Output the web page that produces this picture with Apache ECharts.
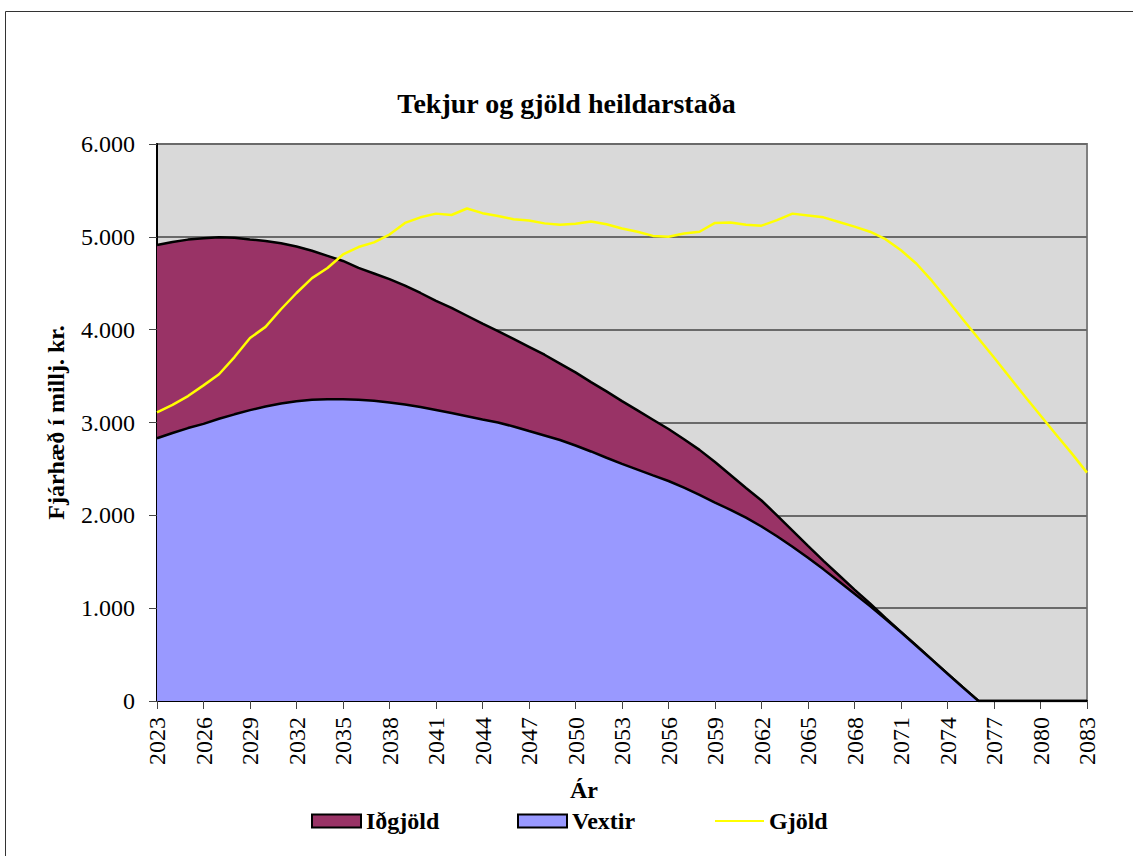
<!DOCTYPE html>
<html>
<head>
<meta charset="utf-8">
<script src="https://cdn.jsdelivr.net/npm/echarts@6/dist/echarts.min.js"></script>
<style>
html,body{margin:0;padding:0;background:#fff;}
#chart{width:1133px;height:856px;}
</style>
</head>
<body>
<div id="chart"></div>
<script>
const years = [];
for (let y = 2023; y <= 2083; y++) years.push(String(y));

const vextir = [2830,2887,2940,2985,3040,3088,3133,3172,3205,3230,3245,3250,3251,3246,3234,3215,3194,3167,3135,3102,
3068,3032,3000,2957,2908,2860,2811,2752,2688,2620,2554,2493,2431,2370,2298,2221,2138,2060,1975,1880,
1775,1662,1543,1418,1288,1155,1022,884,740,592,443,294,145,0,0,0,0,0,0,0,0];

const idgjold = [2082,2058,2030,2000,1955,1902,1839,1783,1725,1665,1605,1545,1489,1419,1371,1330,1281,1228,1175,1133,
1082,1033,985,943,907,870,824,788,747,715,676,637,599,560,522,484,437,375,320,280,
225,173,127,92,67,45,28,11,5,3,2,1,0,0,0,0,0,0,0,0,0];

const gjold = [3110,3190,3285,3400,3520,3705,3910,4030,4220,4395,4555,4665,4810,4890,4940,5025,5150,5210,5250,5235,
5305,5255,5225,5190,5175,5145,5130,5140,5165,5135,5090,5055,5010,5000,5035,5055,5150,5155,5130,5120,
5180,5250,5230,5210,5160,5110,5055,4975,4855,4710,4525,4320,4110,3905,3700,3490,3280,3075,2870,2670,2460];

const FONT = "'Liberation Serif','Times New Roman',serif";
const chart = echarts.init(document.getElementById('chart'), null, {renderer: 'svg'});

const legendText = {fontFamily: FONT, fontSize: 24, fontWeight: 'bold', color: '#000'};

chart.setOption({
  animation: false,
  backgroundColor: '#fff',
  title: {
    text: 'Tekjur og gjöld heildarstaða',
    left: 'center', top: 84,
    textStyle: {fontFamily: FONT, fontSize: 28, fontWeight: 'bold', color: '#000'}
  },
  graphic: [{
    type: 'rect', left: 3, top: 9, silent: true,
    shape: {width: 1140, height: 860},
    style: {fill: 'none', stroke: '#333', lineWidth: 1}
  }],
  legend: [
    {left: 311, top: 809, padding: 0, itemWidth: 49, itemHeight: 13, itemGap: 0, textStyle: legendText,
     data: [{name: 'Iðgjöld', icon: 'rect', itemStyle: {color: '#993366', borderColor: '#000', borderWidth: 2}}]},
    {left: 517, top: 809, padding: 0, itemWidth: 49, itemHeight: 13, itemGap: 0, textStyle: legendText,
     data: [{name: 'Vextir', icon: 'rect', itemStyle: {color: '#9999FF', borderColor: '#000', borderWidth: 2}}]},
    {left: 715, top: 809, padding: 0, itemWidth: 49, itemHeight: 2, itemGap: 0, textStyle: legendText,
     data: [{name: 'Gjöld', icon: 'rect', itemStyle: {color: '#FFFF00', borderWidth: 0}}]}
  ],
  grid: {
    left: 157, top: 144, width: 930, height: 557,
    show: true, backgroundColor: '#D9D9D9', borderColor: '#808080', borderWidth: 2
  },
  xAxis: {
    type: 'category',
    data: years,
    boundaryGap: false,
    name: 'Ár',
    nameLocation: 'middle',
    nameGap: 77,
    nameTextStyle: {fontFamily: FONT, fontSize: 24, fontWeight: 'bold', color: '#000', padding: [0, 76, 0, 0]},
    axisLine: {show: true, lineStyle: {color: '#000', width: 2}},
    axisTick: {show: true, interval: 2, length: 8, lineStyle: {color: '#444', width: 1}},
    axisLabel: {interval: 2, rotate: 90, margin: 16, fontFamily: FONT, fontSize: 24, color: '#000'},
    splitLine: {show: false}
  },
  yAxis: {
    type: 'value',
    min: 0, max: 6000, interval: 1000,
    name: 'Fjárhæð í millj. kr.',
    nameLocation: 'middle',
    nameGap: 89,
    nameTextStyle: {fontFamily: FONT, fontSize: 24, fontWeight: 'bold', color: '#000'},
    axisLine: {show: true, lineStyle: {color: '#000', width: 2}},
    axisTick: {show: true, length: 8, lineStyle: {color: '#444', width: 1}},
    axisLabel: {
      margin: 22, fontFamily: FONT, fontSize: 24, color: '#000',
      formatter: v => v === 0 ? '0' : String(v).replace(/\B(?=(\d{3})+(?!\d))/g, '.')
    },
    splitLine: {show: true, lineStyle: {color: '#6a6a6a', width: 2}}
  },
  series: [
    {
      name: 'Vextir', type: 'line', stack: 'total', data: vextir, z: 3,
      showSymbol: false, symbol: 'none',
      lineStyle: {color: '#000', width: 2.5},
      itemStyle: {color: '#9999FF', borderColor: '#000'},
      areaStyle: {color: '#9999FF', opacity: 1}
    },
    {
      name: 'Iðgjöld', type: 'line', stack: 'total', data: idgjold, z: 2,
      showSymbol: false, symbol: 'none',
      lineStyle: {color: '#000', width: 2.5},
      itemStyle: {color: '#993366', borderColor: '#000'},
      areaStyle: {color: '#993366', opacity: 1}
    },
    {
      name: 'Gjöld', type: 'line', data: gjold, z: 4,
      showSymbol: false, symbol: 'none',
      lineStyle: {color: '#FFFF00', width: 2.5},
      itemStyle: {color: '#FFFF00'}
    }
  ]
});
</script>
</body>
</html>
